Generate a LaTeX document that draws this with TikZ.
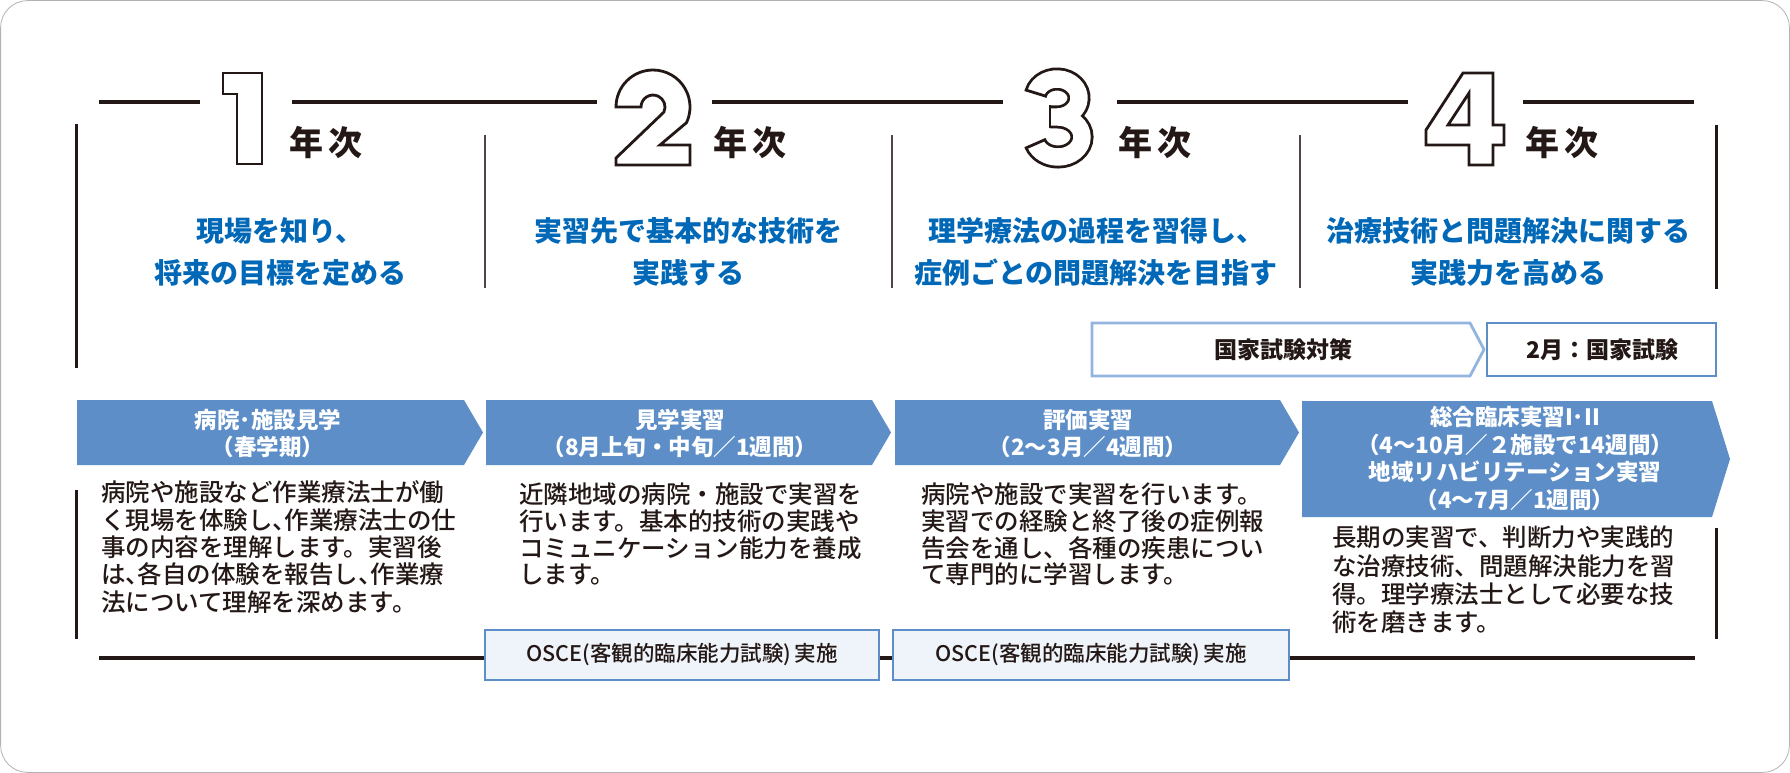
\documentclass[tikz,border=0pt]{standalone}
\usepackage{fontspec}
\setmainfont{Noto Sans CJK JP}
\IfFontExistsTF{Noto Sans CJK JP Medium}{\newfontfamily\jpmed{Noto Sans CJK JP Medium}}{\newfontfamily\jpmed{Noto Sans CJK JP}}
\definecolor{ink}{RGB}{35,24,21}
\definecolor{goalblue}{RGB}{0,104,183}
\definecolor{chev}{RGB}{93,142,200}
\definecolor{chevlight}{RGB}{146,180,223}
\definecolor{oscefill}{RGB}{239,243,250}
\newcommand\hc{\makebox[0.5em][l]{、}}
\begin{document}
\begin{tikzpicture}[x=1pt,y=-1pt,
  frame/.style={draw=black!30,line width=0.8,rounded corners=27},
  rule/.style={draw=ink,line width=3.3},
  side/.style={draw=ink,line width=3},
  divider/.style={draw=ink!80,line width=1.7},
  digit/.style={draw=ink,line width=2.8,line join=miter},
  chevshape/.style={fill=chev},
  chevtext/.style={text=white,font=\fontsize{22.5}{27.6}\selectfont\bfseries,align=center,inner sep=0},
  desc/.style={anchor=west,text=ink,font=\jpmed\fontsize{24.5}{27}\selectfont,inner sep=0,text height=0.88em,text depth=0.12em},
  goal/.style={text=goalblue,font=\fontsize{28}{42}\selectfont\bfseries,align=center,inner sep=0},
  nenji/.style={text=ink,font=\fontsize{34}{36}\selectfont\bfseries,inner sep=0},
  boxtext/.style={text=ink,font=\fontsize{23}{26}\selectfont\bfseries,inner sep=0},
  osce/.style={draw=chev,fill=oscefill,line width=2.6},
  oscetext/.style={text=ink,font=\jpmed\fontsize{21.5}{24}\selectfont,inner sep=0}
]
\useasboundingbox (0,0) rectangle (1790,773);
\draw[frame] (0.6,0.6) rectangle (1789.4,772.4);

% top rule
\draw[rule] (99,102) -- (200,102);
\draw[rule] (292,102) -- (597,102);
\draw[rule] (712,102) -- (1003,102);
\draw[rule] (1117,102) -- (1408,102);
\draw[rule] (1523,102) -- (1694,102);

% vertical lines
\draw[side] (76,124) -- (76,368);
\draw[side] (1716,125) -- (1716,289);
\draw[divider] (485,135) -- (485,288);
\draw[divider] (892,135) -- (892,288);
\draw[divider] (1300,135) -- (1300,288);
\draw[side] (76,490) -- (76,639);
\draw[side] (1716,528) -- (1716,639);

% bottom rule
\draw[rule] (99,658) -- (1695,658);

% digit 1
\draw[digit] (223,73) -- (262,73) -- (262,164) -- (237,164) -- (237,94) -- (223,94) -- cycle;
% digit 2
\draw[digit] (616,107) arc[start angle=180,end angle=385,radius=37] -- (660,145) -- (690,145) -- (690,165) -- (616,165) -- (616,158) -- (663.9,112.1) arc[start angle=385,end angle=180,radius=12] -- cycle;
% digit 3
\draw[ink,line width=23,postaction={draw=white,line width=17.4}]
  (1035.75,93.08) arc[start angle=195,end angle=450,x radius=22,y radius=19] -- (1050,117)
  (1050,117) -- (1058,117) arc[start angle=270,end angle=520,x radius=24,y radius=20];
\draw[ink,line width=2.8] (1024.77,89.68) -- (1046.73,96.48);
\draw[ink,line width=2.8] (1024.92,148.44) -- (1045.98,139.24);
\draw[ink,line width=2.8] (1050,105.5) -- (1050,128.5);
% digit 4
\draw[digit] (1463,73) -- (1493,73) -- (1493,125) -- (1504,125) -- (1504,145) -- (1493,145) -- (1493,165) -- (1469,165) -- (1469,145) -- (1426,145) -- (1426,130) -- cycle;
\draw[digit] (1469,93) -- (1469,125) -- (1448,125) -- cycle;

% 年次
\node[nenji] (n1) at (326,143) {年\hspace{5pt}次};
\node[nenji] (n2) at (750,143) {年\hspace{5pt}次};
\node[nenji] (n3) at (1155,143) {年\hspace{5pt}次};
\node[nenji] (n4) at (1562,143) {年\hspace{5pt}次};

% goals
\node[goal] (g1) at (280,252) {現場を知り、\\将来の目標を定める};
\node[goal] (g2) at (688,252) {実習先で基本的な技術を\\実践する};
\node[goal] (g3) at (1096,252) {理学療法の過程を習得し、\\症例ごとの問題解決を目指す};
\node[goal] (g4) at (1508,252) {治療技術と問題解決に関する\\実践力を高める};

% national exam
\draw[draw=chevlight,line width=2.8,fill=white] (1092,323) -- (1470,323) -- (1484,349.5) -- (1470,376) -- (1092,376) -- cycle;
\node[boxtext] (k1) at (1283,350) {国家試験対策};
\draw[draw=chev,line width=2.8,fill=white] (1487,323) rectangle (1716,376);
\node[boxtext] (k2) at (1602,350) {2月：国家試験};

% chevrons
\fill[chevshape] (77,400) -- (464,400) -- (483,432.5) -- (464,465) -- (77,465) -- cycle;
\fill[chevshape] (486,400) -- (872,400) -- (891,432.5) -- (872,465) -- (486,465) -- cycle;
\fill[chevshape] (895,400) -- (1280,400) -- (1299,432.5) -- (1280,465) -- (895,465) -- cycle;
\fill[chevshape] (1302,401) -- (1712,401) -- (1730,459) -- (1712,517) -- (1302,517) -- cycle;
\node[chevtext] (c1) at (268,433.5) {病院･施設見学\\（春学期）};
\node[chevtext] (c2) at (680,433.5) {見学実習\\（8月上旬・中旬／1週間）};
\node[chevtext] (c3) at (1088,433.5) {評価実習\\（2〜3月／4週間）};
\node[chevtext] (c4) at (1515,458.5) {総合臨床実習I･II\\（4〜10月／２施設で14週間）\\地域リハビリテーション実習\\（4〜7月／1週間）};

% descriptions
\node[desc] (d1a) at (101,498) {病院や施設など作業療法士が働};
\node[desc] (d1b) at (101,525.3) {く現場を体験し\hc 作業療法士の仕};
\node[desc] (d1c) at (101,552.6) {事の内容を理解します。実習後};
\node[desc] (d1d) at (101,579.9) {は\hc 各自の体験を報告し\hc 作業療};
\node[desc] (d1e) at (101,607.2) {法について理解を深めます。};

\node[desc] (d2a) at (519,500) {近隣地域の病院・施設で実習を};
\node[desc] (d2b) at (519,526.7) {行います。基本的技術の実践や};
\node[desc] (d2c) at (519,553.4) {コミュニケーション能力を養成};
\node[desc] (d2d) at (519,580.1) {します。};

\node[desc] (d3a) at (921,500) {病院や施設で実習を行います。};
\node[desc] (d3b) at (921,526.7) {実習での経験と終了後の症例報};
\node[desc] (d3c) at (921,553.4) {告会を通し、各種の疾患につい};
\node[desc] (d3d) at (921,580.1) {て専門的に学習します。};

\node[desc] (d4a) at (1332,543) {長期の実習で、判断力や実践的};
\node[desc] (d4b) at (1332,571.3) {な治療技術、問題解決能力を習};
\node[desc] (d4c) at (1332,599.6) {得。理学療法士として必要な技};
\node[desc] (d4d) at (1332,627.9) {術を磨きます。};

% OSCE
\draw[osce] (485,630) rectangle (879,680);
\node[oscetext] (o1) at (682,655) {OSCE(客観的臨床能力試験)\,実施};
\draw[osce] (893,630) rectangle (1289,680);
\node[oscetext] (o2) at (1091,655) {OSCE(客観的臨床能力試験)\,実施};
\end{tikzpicture}
\end{document}
